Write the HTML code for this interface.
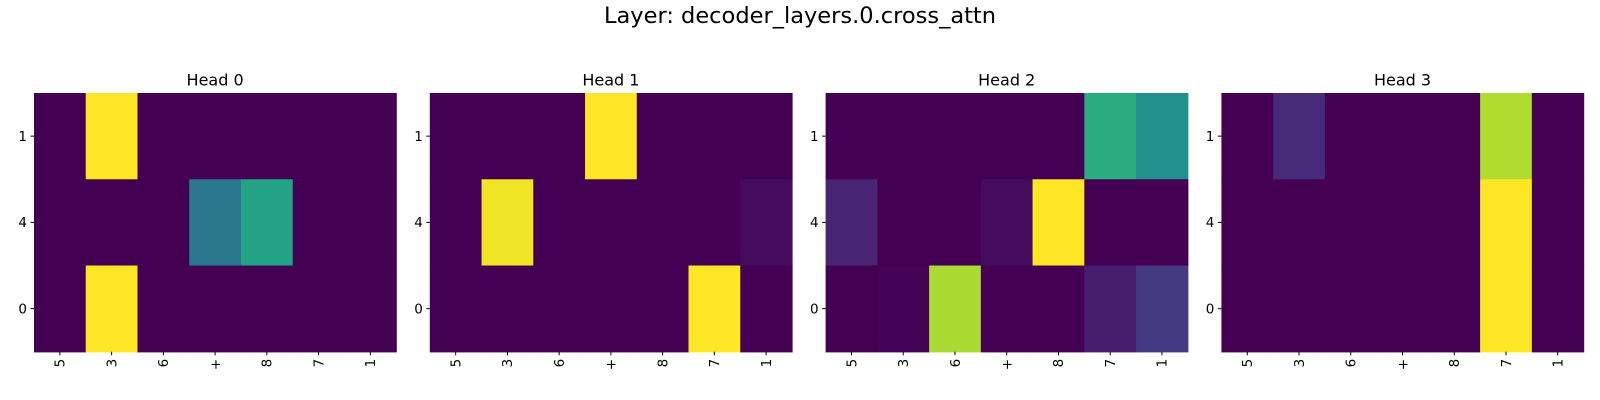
<!DOCTYPE html>
<html><head><meta charset="utf-8"><style>
html,body{margin:0;padding:0;background:#fff;}
svg{display:block;font-family:"DejaVu Sans","Liberation Sans",sans-serif;}
</style></head><body>
<svg id="fig" width="1600" height="400" viewBox="0 0 1600 400">
<text x="800" y="23" text-anchor="middle" font-size="22.5" fill="#000">Layer: decoder_layers.0.cross_attn</text>
</svg>
<script>
const xLabels = ["5","3","6","+","8","7","1"];
const yLabels = ["1","4","0"];
const headTitles = ["Head 0","Head 1","Head 2","Head 3"];
const head0 = [[0,1,0,0,0,0,0],[0,0,0,0.4,0.58,0,0],[0,1,0,0,0,0,0]];
const head1 = [[0,0,0,1,0,0,0],[0,0.98,0,0,0,0,0.03],[0,0,0,0,0,1,0]];
const head2 = [[0,0,0,0,0,0.62,0.5],[0.1,0,0,0.03,1,0,0],[0,0.005,0.87,0,0,0.08,0.17]];
const head3 = [[0,0.12,0,0,0,0.88,0],[0,0,0,0,0,1,0],[0,0,0,0,0,1,0]];
const heads = [head0, head1, head2, head3];

const stops=["#440154","#482475","#414487","#355f8d","#2a788e","#21918c","#22a884","#44bf70","#7ad151","#bddf26","#fde725"];
function hex(h){return [1,3,5].map(i=>parseInt(h.substr(i,2),16));}
function viridis(v){v=Math.max(0,Math.min(1,v));const p=v*10,i=Math.min(9,Math.floor(p)),f=p-i;const a=hex(stops[i]),b=hex(stops[i+1]);return "rgb("+a.map((c,k)=>Math.round(c+(b[k]-c)*f)).join(",")+")";}

const NS="http://www.w3.org/2000/svg";
const svgEl=document.getElementById("fig");
function mk(tag,attrs,parent){const e=document.createElementNS(NS,tag);for(const k in attrs)e.setAttribute(k,attrs[k]);(parent||svgEl).appendChild(e);return e;}
const lefts=[34,429.8,825.6,1221.4], W=362.2, topY=93, H=258.8;
heads.forEach((data,h)=>{
  const g=mk("g",{});
  
  
  const x0=lefts[h];
  const cw=W/xLabels.length, rh=H/yLabels.length;
  const xs=j=>x0+j*cw, ys=i=>topY+i*rh;
  const t=mk("text",{x:x0+W/2,y:85.5,"text-anchor":"middle","font-size":"16",fill:"#000"},g);
  t.textContent=headTitles[h];
  
  
  data.forEach((row,i)=>row.forEach((v,j)=>{
    const r=mk("rect",{x:xs(j),y:ys(i),width:cw+0.6,height:rh+0.6,fill:viridis(v)},g);
    
    
  }));
  yLabels.forEach((l,i)=>{
    const cy=ys(i)+rh/2;
    mk("line",{x1:x0-3.5,x2:x0,y1:cy,y2:cy,stroke:"#000","stroke-width":"1"},g);
    const tt=mk("text",{x:x0-7,y:cy+4.8,"text-anchor":"end","font-size":"13.5",fill:"#000"},g);
    tt.textContent=l;
    
    
  });
  xLabels.forEach((l,j)=>{
    const cx=xs(j)+cw/2;
    mk("line",{x1:cx,x2:cx,y1:topY+H,y2:topY+H+3.5,stroke:"#000","stroke-width":"1"},g);
    const tt=mk("text",{x:0,y:0,"text-anchor":"end","font-size":"13.5",fill:"#000",transform:"translate("+(cx+4.8)+","+(topY+H+7)+") rotate(-90)"},g);
    tt.textContent=l;
    
    
  });
});
</script>
</body></html>
